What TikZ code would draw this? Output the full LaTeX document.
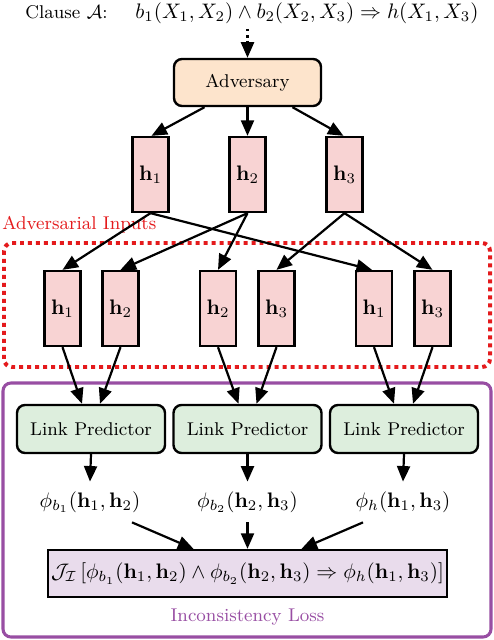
\documentclass[tikz,border=0pt]{standalone}
\usetikzlibrary{arrows.meta,calc}
\definecolor{advfill}{HTML}{FDE4CC}
\definecolor{hfill}{HTML}{F8D3D3}
\definecolor{lpfill}{HTML}{DDEEDD}
\definecolor{jfill}{HTML}{E9DCEC}
\definecolor{advred}{HTML}{E41A1C}
\definecolor{losspurple}{HTML}{984EA3}
\newdimen\pxu
\pxu=0.476pt
\begin{document}
\begin{tikzpicture}[x=0.476pt,y=-0.476pt,
  every node/.style={font=\fontsize{8.8}{11}\selectfont},
  mathfont/.style={font=\fontsize{10}{12}\selectfont},
  arr/.style={line width=1.05pt,-{Triangle[length=7.4pt,width=6.2pt]}},
  advbox/.style={draw,line width=1.15pt,rounded corners=3.8pt,fill=advfill,minimum width=147\pxu,minimum height=47\pxu,inner sep=0pt},
  hbox/.style={draw,line width=1.1pt,fill=hfill,minimum width=36\pxu,minimum height=75\pxu,inner sep=0pt,mathfont},
  lpbox/.style={draw,line width=1.15pt,rounded corners=3.8pt,fill=lpfill,minimum width=148\pxu,minimum height=48\pxu,inner sep=0pt},
  jbox/.style={draw,line width=1.1pt,fill=jfill,minimum width=399\pxu,minimum height=47\pxu,inner sep=0pt,mathfont},
  phinode/.style={inner xsep=0pt,inner ysep=4.5pt,mathfont}
]
\useasboundingbox (0,0) rectangle (494,640);

% frames
\draw[losspurple,line width=1.45pt,rounded corners=3.8pt] (3,383) rectangle (491,637);
\draw[advred,line width=1.9pt,dash pattern=on 1.9pt off 1.9pt,rounded corners=3.8pt] (4,243) rectangle (490,367);

% title
\node[anchor=base west,inner sep=0pt] (cl) at (25,18.5) {Clause $\mathcal{A}$:};
\node[anchor=base west,inner sep=0pt,mathfont] (fm) at (135,18.5) {$b_1(X_1,X_2)\wedge b_2(X_2,X_3)\Rightarrow h(X_1,X_3)$};

% adversary
\node[advbox] (adv) at (247.5,82.5) {Adversary};
\coordinate (dtop) at (247.5,29);
\coordinate (dend) at (247.5,41);
\draw[line width=1.05pt,dotted] (dtop) -- (dend);
\draw[arr] (dend) -- (adv.north);

% top h
\node[hbox] (t1) at (150.5,174.5) {$\mathbf{h}_1$};
\node[hbox] (t2) at (247.5,174.5) {$\mathbf{h}_2$};
\node[hbox] (t3) at (344.5,174.5) {$\mathbf{h}_3$};
\draw[arr] ($(adv.south)+(-43,0)$) -- ($(t1.north)+(1,0)$);
\draw[arr] (adv.south) -- (t2.north);
\draw[arr] ($(adv.south)+(45,0)$) -- ($(t3.north)+(-1,0)$);

% adversarial inputs
\node[anchor=base west,inner sep=0pt,text=advred] (ailab) at (2,229) {Adversarial Inputs};
\node[hbox] (m1) at (62.5,308.5) {$\mathbf{h}_1$};
\node[hbox] (m2) at (120.5,308.5) {$\mathbf{h}_2$};
\node[hbox] (m3) at (218,308.5) {$\mathbf{h}_2$};
\node[hbox] (m4) at (276.5,308.5) {$\mathbf{h}_3$};
\node[hbox] (m5) at (374,308.5) {$\mathbf{h}_1$};
\node[hbox] (m6) at (432.5,308.5) {$\mathbf{h}_3$};
\draw[arr] (t1.south) -- (m1.north);
\draw[arr] (t1.south) -- ($(m5.north)+(-2,0)$);
\draw[arr] (t2.south) -- (m2.north);
\draw[arr] (t2.south) -- (m3.north);
\draw[arr] (t3.south) -- (m4.north);
\draw[arr] (t3.south) -- (m6.north);

% link predictors
\node[lpbox] (lp1) at (91,429) {Link Predictor};
\node[lpbox] (lp2) at (247.5,429) {Link Predictor};
\node[lpbox] (lp3) at (404,429) {Link Predictor};
\draw[arr] (m1.south) -- ($(lp1.north)+(-9,0)$);
\draw[arr] (m2.south) -- ($(lp1.north)+(9,0)$);
\draw[arr] (m3.south) -- ($(lp2.north)+(-9,0)$);
\draw[arr] (m4.south) -- ($(lp2.north)+(9,0)$);
\draw[arr] (m5.south) -- ($(lp3.north)+(-10,0)$);
\draw[arr] (m6.south) -- ($(lp3.north)+(9,0)$);

% phi
\node[phinode] (p1) at (90,502) {$\phi_{b_1}(\mathbf{h}_1,\mathbf{h}_2)$};
\node[phinode] (p2) at (247.5,502) {$\phi_{b_2}(\mathbf{h}_2,\mathbf{h}_3)$};
\node[phinode] (p3) at (403,502) {$\phi_{h}(\mathbf{h}_1,\mathbf{h}_3)$};
\draw[arr] (lp1.south) -- (p1.north);
\draw[arr] (lp2.south) -- (p2.north);
\draw[arr] (lp3.south) -- (p3.north);

% loss
\node[jbox] (J) at (247.5,573.5) {$\mathcal{J}_{\mathcal{I}}\left[\phi_{b_1}(\mathbf{h}_1,\mathbf{h}_2)\wedge\phi_{b_2}(\mathbf{h}_2,\mathbf{h}_3)\Rightarrow\phi_h(\mathbf{h}_1,\mathbf{h}_3)\right]$};
\draw[arr] ($(p1.south)+(42,0)$) -- ($(J.north)+(-54,0)$);
\draw[arr] (p2.south) -- (J.north);
\draw[arr] ($(p3.south)+(-40,0)$) -- ($(J.north)+(54,0)$);
\node[text=losspurple,inner sep=0pt] (ilab) at (247.5,617) {Inconsistency Loss};
\end{tikzpicture}
\end{document}
